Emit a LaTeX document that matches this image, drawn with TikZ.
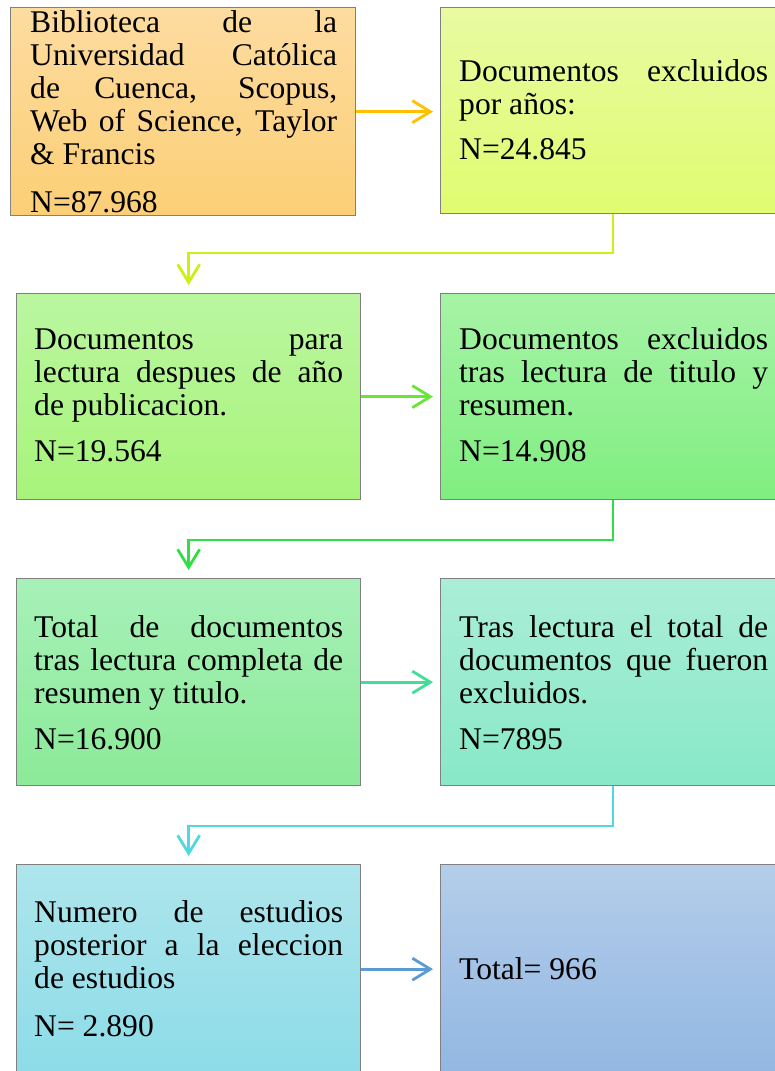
\documentclass[tikz,border=0pt]{standalone}
\usepackage{fontspec}
\setmainfont{Liberation Serif}
\usetikzlibrary{arrows.meta}
\hbadness=10000
\hyphenpenalty=10000
\exhyphenpenalty=10000
\setlength{\parindent}{0pt}
\definecolor{b1t}{RGB}{253,220,160}\definecolor{b1b}{RGB}{252,207,118}
\definecolor{b2t}{RGB}{233,250,162}\definecolor{b2b}{RGB}{224,252,112}
\definecolor{b3t}{RGB}{186,246,160}\definecolor{b3b}{RGB}{168,244,122}
\definecolor{b4t}{RGB}{166,243,166}\definecolor{b4b}{RGB}{128,238,128}
\definecolor{b5t}{RGB}{166,241,184}\definecolor{b5b}{RGB}{140,234,152}
\definecolor{b6t}{RGB}{170,238,215}\definecolor{b6b}{RGB}{136,232,200}
\definecolor{b7t}{RGB}{174,229,236}\definecolor{b7b}{RGB}{140,220,232}
\definecolor{b8t}{RGB}{180,205,234}\definecolor{b8b}{RGB}{146,183,226}
\definecolor{c1}{RGB}{255,192,0}
\definecolor{c2}{RGB}{205,240,20}
\definecolor{c3}{RGB}{104,230,56}
\definecolor{c4}{RGB}{50,222,70}
\definecolor{c5}{RGB}{64,222,150}
\definecolor{c6}{RGB}{80,216,222}
\definecolor{c7}{RGB}{91,155,213}
\definecolor{edge}{RGB}{128,128,128}
\newcommand{\firststrut}{\rule{0pt}{23pt}}
\begin{document}
\begin{tikzpicture}[x=1pt,y=-1pt,
  box/.style={draw=edge,line width=1.3pt,anchor=north west,inner sep=0pt,minimum width=#1},
  box/.default=345pt,
  txt/.style={anchor=north west,inner sep=0pt,text width=#1,align=justify,
    font=\fontsize{31.6}{33}\selectfont},
  txt/.default=309pt,
  conn/.style={line width=2.8pt,-{Straight Barb[length=18pt,width=22pt]},shorten >=7pt},
  elb/.style={line width=2.8pt,-{Straight Barb[length=18pt,width=22pt]},shorten >=8pt}
]
\useasboundingbox (0,0) rectangle (775,1071);
\clip (0,0) rectangle (775,1071);
% boxes
\node[box=345pt,minimum height=208pt,top color=b1t,bottom color=b1b] (b1) at (10,7) {};
\node[box=340pt,minimum height=206pt,top color=b2t,bottom color=b2b] (b2) at (440,7) {};
\node[box=344pt,minimum height=206pt,top color=b3t,bottom color=b3b] (b3) at (16,293) {};
\node[box=340pt,minimum height=206pt,top color=b4t,bottom color=b4b] (b4) at (440,293) {};
\node[box=344pt,minimum height=207pt,top color=b5t,bottom color=b5b] (b5) at (16,578) {};
\node[box=340pt,minimum height=207pt,top color=b6t,bottom color=b6b] (b6) at (440,578) {};
\node[box=344pt,minimum height=209pt,top color=b7t,bottom color=b7b] (b7) at (16,864) {};
\node[box=340pt,minimum height=209pt,top color=b8t,bottom color=b8b] (b8) at (440,864) {};
% texts
\node[txt=307pt] (t1) at (30,9) {\firststrut Biblioteca de la\linebreak Universidad Católica\linebreak de Cuenca, Scopus,\linebreak Web of Science, Taylor\linebreak \& Francis\par\vspace{15pt}N=87.968};
\node[txt] (t2) at (459,58) {\firststrut Documentos excluidos\linebreak por años:\par\vspace{12pt}N=24.845};
\node[txt] (t3) at (34,326) {\firststrut Documentos para\linebreak lectura despues de año\linebreak de publicacion.\par\vspace{13pt}N=19.564};
\node[txt] (t4) at (459,326) {\firststrut Documentos excluidos\linebreak tras lectura de titulo y\linebreak resumen.\par\vspace{13pt}N=14.908};
\node[txt] (t5) at (34,614) {\firststrut Total de documentos\linebreak tras lectura completa de\linebreak resumen y titulo.\par\vspace{13pt}N=16.900};
\node[txt] (t6) at (459,614) {\firststrut Tras lectura el total de\linebreak documentos que fueron\linebreak excluidos.\par\vspace{13pt}N=7895};
\node[txt] (t7) at (34,899) {\firststrut Numero de estudios\linebreak posterior a la eleccion\linebreak de estudios\par\vspace{15pt}N= 2.890};
\node[txt] (t8) at (459,956) {\firststrut Total= 966};
% connectors
\coordinate (k1) at (613,253);
\coordinate (k2) at (613,540);
\coordinate (k3) at (613,826);
\draw[conn,c1] (b1.east) -- (b1.east -| b2.west);
\draw[elb,c2] (k1 |- b2.south) -- (k1) -| (b3.north);
\draw[conn,c3] (b3.east) -- (b3.east -| b4.west);
\draw[elb,c4] (k2 |- b4.south) -- (k2) -| (b5.north);
\draw[conn,c5] (b5.east) -- (b5.east -| b6.west);
\draw[elb,c6] (k3 |- b6.south) -- (k3) -| (b7.north);
\draw[conn,c7] (b7.east) -- (b7.east -| b8.west);
\end{tikzpicture}
\end{document}
